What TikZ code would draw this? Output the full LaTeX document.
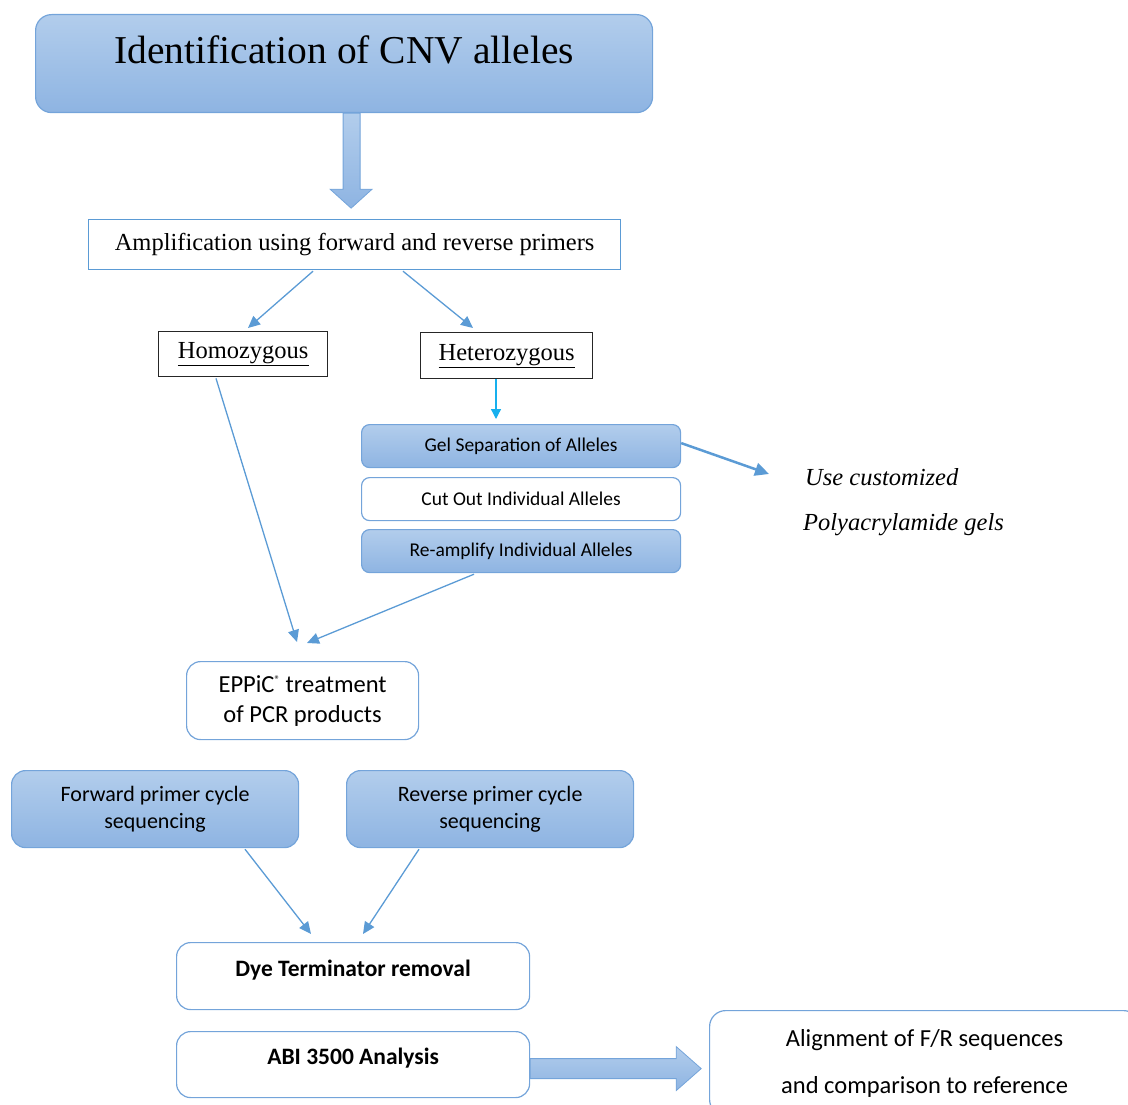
\documentclass[tikz,border=0pt]{standalone}
\usepackage{fontspec}
\setmainfont{Liberation Serif}
\newfontfamily\calfont{Carlito}
\usetikzlibrary{arrows.meta,calc}
\definecolor{bluetop}{HTML}{B2CDEC}
\definecolor{bluebot}{HTML}{8EB4E2}
\definecolor{bluebd}{HTML}{74A4DA}
\definecolor{linkc}{HTML}{5B9BD5}
\definecolor{cyanc}{HTML}{17B0EE}
\tikzset{
  gradbox/.style={draw=bluebd, line width=1.2pt, rounded corners=8pt, top color=bluetop, bottom color=bluebot, anchor=north west, inner sep=0pt},
  whitebox/.style={draw=bluebd, line width=1.2pt, rounded corners=8pt, fill=white, anchor=north west, inner sep=0pt},
  plainbox/.style={draw=linkc, line width=1.2pt, fill=white, anchor=north west, inner sep=0pt},
  blackbox/.style={draw=black!85, line width=1.4pt, fill=white, anchor=north west, inner sep=0pt},
  link/.style={draw=linkc, line width=1.3pt, -{Triangle[length=12pt,width=11pt]}},
  serif24/.style={font=\fontsize{24.5}{29}\selectfont},
  sans24/.style={font=\calfont\fontsize{24.5}{30}\selectfont},
  blockarrow/.style={draw=bluebd, line width=0.8pt, top color=bluetop, bottom color=bluebot},
}
\begin{document}
\begin{tikzpicture}[x=1pt,y=-1pt]
\useasboundingbox (0,0) rectangle (1128,1105);
\clip (0,0) rectangle (1128,1105);

% title
\node[gradbox, rounded corners=16pt, minimum width=617, minimum height=98, text height=28pt, text depth=28pt,
  font=\fontsize{39.5}{44}\selectfont] (title) at (35,14) {Identification of CNV alleles};

% down block arrow
\path[blockarrow] ($(title.south)+(0,0)$) ++(-1,0) -- ++(17,0) -- ++(0,76) -- ++(12,0) -- ++(-21,19) -- ++(-21,-19) -- ++(13,0) -- cycle;

\node[plainbox, serif24, minimum width=532, minimum height=50] (amp) at (88,219) {Amplification using forward and reverse primers};

\node[blackbox, serif24, minimum width=169, minimum height=45] (hom) at (158,331) {\underline{Homozygous}};
\node[blackbox, serif24, minimum width=172, minimum height=46] (het) at (420,332) {\underline{Heterozygous}};

\draw[link] ($(amp.south west)+(225,1)$) -- ($(hom.north west)+(90,-3)$);
\draw[link] ($(amp.south west)+(315,1)$) -- ($(het.north west)+(53,-4)$);

\node[gradbox, font=\calfont\fontsize{19.5}{24}\selectfont, minimum width=319, minimum height=43] (gel) at (361,424) {Gel Separation of Alleles};
\node[whitebox, font=\calfont\fontsize{19.5}{24}\selectfont, minimum width=319, minimum height=43] (cut) at (361,477) {Cut Out Individual Alleles};
\node[gradbox, font=\calfont\fontsize{19.5}{24}\selectfont, minimum width=319, minimum height=43] (re) at (361,529) {Re-amplify Individual Alleles};

\draw[draw=cyanc, line width=1.3pt, -{Triangle[length=10pt,width=10pt]}] ($(het.south west)+(76,0)$) -- ($(gel.north west)+(135,-5)$);

\node[serif24, font=\itshape\fontsize{24.5}{29}\selectfont, anchor=base west, inner sep=0pt] (use1) at (805,485) {Use customized};
\node[serif24, font=\itshape\fontsize{24.5}{29}\selectfont, anchor=base west, inner sep=0pt] (use2) at (803,530) {Polyacrylamide gels};

\draw[draw=linkc, line width=2.5pt, -{Triangle[length=14pt,width=13pt]}] ($(gel.east)+(0,-3)$) -- ($(use1.base west)+(-36,-11)$);

\node[whitebox, rounded corners=14pt, sans24, align=center, minimum width=232, minimum height=78] (eppic) at (186,661) {EPPiC\raisebox{9pt}{\fontsize{11}{11}\selectfont ®} treatment\\of PCR products};

\draw[link] ($(hom.south west)+(58,1)$) -- ($(eppic.north west)+(111,-19)$);
\draw[link] ($(re.south west)+(113,1)$) -- ($(eppic.north west)+(121,-18)$);

\node[gradbox, rounded corners=14pt, font=\calfont\fontsize{22}{27}\selectfont, align=center, minimum width=287, minimum height=77] (fwd) at (11,770) {Forward primer cycle\\sequencing};
\node[gradbox, rounded corners=14pt, font=\calfont\fontsize{22}{27}\selectfont, align=center, minimum width=287, minimum height=77] (rev) at (346,770) {Reverse primer cycle\\sequencing};

\node[whitebox, rounded corners=14pt, font=\calfont\bfseries\fontsize{23.5}{28}\selectfont, minimum width=353, minimum height=67, text height=17pt, text depth=17pt] (dye) at (176,942) {Dye Terminator removal};
\node[whitebox, rounded corners=14pt, font=\calfont\bfseries\fontsize{23.5}{28}\selectfont, minimum width=353, minimum height=66, text height=17pt, text depth=17pt] (abi) at (176,1031) {ABI 3500 Analysis};

\draw[link] ($(fwd.south west)+(234,1)$) -- ($(dye.north west)+(135,-8)$);
\draw[link] ($(rev.south west)+(73,1)$) -- ($(dye.north west)+(187,-8)$);

\node[whitebox, rounded corners=16pt, sans24, align=center, minimum width=430, minimum height=105, font=\calfont\fontsize{24.5}{47}\selectfont] (aln) at (709,1010) {Alignment of F/R sequences\\and comparison to reference};

% right block arrow
\path[blockarrow] ($(abi.east)+(0,-6)$) -- ++(146,0) -- ++(0,-12) -- ++(25,22) -- ++(-25,22) -- ++(0,-12) -- ++(-146,0) -- cycle;
\end{tikzpicture}
\end{document}
